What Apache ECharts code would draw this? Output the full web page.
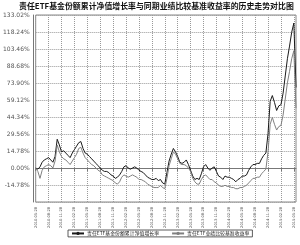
<!DOCTYPE html>
<html><head><meta charset="utf-8">
<script src="https://cdn.jsdelivr.net/npm/echarts@6/dist/echarts.min.js"></script>
<style>html,body{margin:0;padding:0;background:#fff}#c{width:300px;height:245px}</style>
</head><body><div id="c"></div>
<script>
const chartTitle = '责任ETF基金份额累计净值增长率与同期业绩比较基准收益率的历史走势对比图';
const seriesNames = ['责任ETF基金份额累计净值增长率', '责任ETF业绩比较基准收益率'];
const tickLabels = ['2010-05-28','2010-08-28','2010-11-28','2011-02-28','2011-05-28','2011-08-28','2011-11-28',
  '2012-02-28','2012-05-28','2012-08-28','2012-11-28','2013-02-28','2013-05-28','2013-08-28','2013-11-28',
  '2014-02-28','2014-05-28','2014-08-28','2014-11-28','2015-02-28','2015-05-28'];
const pointsPerTick = 6;
const fundGrowth = [
  0,-1,1,5,7,8,9,7,5,10,
  25,20,14,15,13,11,9,13,16,19,
  22,23,17,13,12,10,8,6,4,2,
  0,-2,-3,-3,-4,-6,-7,-9,-8,-6,
  -3,1,2,0,-1,0,1,0,-2,-3,
  -4,-6,-8,-9,-10,-10,-9,-11,-10,-13,
  -14,-4,6,12,17,14,10,5,4,5,
  7,3,-2,-7,-10,-9,-10,-5,1,3,
  0,-2,0,1,-3,-7,-8,-10,-7,-8,
  -8,-9,-10,-12,-10,-9,-7,-7,-6,-2,
  1,3,3,4,4,8,11,13,30,58,
  63,57,50,54,55,65,80,95,106,118,
  126,70
];
const benchmarkGrowth = [
  0,-3,-9,-2,1,2,3,2,0,6,
  20,14,10,8,7,5,3,6,9,12,
  17,18,13,9,7,5,3,2,0,-2,
  -3,-6,-7,-8,-9,-10,-11,-13,-14,-12,
  -8,-6,-7,-8,-7,-6,-7,-8,-10,-10,
  -11,-12,-14,-15,-16,-17,-17,-17,-15,-17,
  -18,-9,2,8,14,12,8,4,3,3,
  2,0,-3,-9,-12,-14,-14,-10,-7,-6,
  -8,-10,-10,-12,-13,-15,-16,-16,-15,-16,
  -16,-17,-17,-18,-18,-17,-17,-16,-15,-13,
  -11,-9,-9,-8,-8,-5,-3,-1,14,38,
  44,38,33,36,37,46,60,74,84,95,
  102,52
];
const categories = fundGrowth.map((_, i) => String(i));
const isTick = (i) => i % pointsPerTick === 0 && i / pointsPerTick < tickLabels.length;

const chart = echarts.init(document.getElementById('c'), null, {renderer: 'canvas'});
chart.setOption({
  animation: false,
  backgroundColor: '#fff',
  title: {
    text: chartTitle, left: 19, top: 2, padding: 0,
    textStyle: {fontSize: 7.9, fontWeight: 'bold', color: '#111', fontFamily: 'Noto Sans CJK SC'}
  },
  legend: {
    data: seriesNames, top: 230, left: 68,
    itemWidth: 12, itemHeight: 4, itemGap: 12,
    borderColor: '#333', borderWidth: 0.8, padding: [1, 3],
    textStyle: {fontSize: 4.9, color: '#222', fontFamily: 'Noto Sans CJK SC', padding: [0, 0, 0, -2]}
  },
  grid: {left: 33, right: 4, top: 15, bottom: 43, show: true, borderColor: '#888', borderWidth: 1},
  xAxis: {
    type: 'category', data: categories, boundaryGap: false, offset: 2,
    axisLine: {lineStyle: {color: '#777', width: 1}},
    axisTick: {show: true, interval: (i) => isTick(i), length: 3, lineStyle: {color: '#777'}},
    axisLabel: {
      interval: (i) => isTick(i), rotate: 90, fontSize: 3.6, color: '#444', margin: 3,
      fontFamily: 'DejaVu Sans',
      formatter: (v, i) => tickLabels[i / pointsPerTick] || ''
    },
    splitLine: {show: true, interval: (i) => isTick(i), lineStyle: {type: 'dotted', color: '#999', width: 1}}
  },
  yAxis: {
    type: 'value', min: -29.56, max: 133.02, interval: 14.78, offset: 2,
    axisLine: {show: true, lineStyle: {color: '#777', width: 1}},
    axisTick: {show: false},
    axisLabel: {
      fontSize: 6, color: '#555', margin: 4, fontFamily: 'DejaVu Sans',
      formatter: (v) => v < -20 ? '' : v.toFixed(2) + '%'
    },
    splitLine: {show: true, lineStyle: {type: 'dotted', color: '#999', width: 1}}
  },
  series: [
    {name: seriesNames[0], type: 'line', data: fundGrowth, symbol: 'none',
     lineStyle: {color: '#1a1a1a', width: 1}, itemStyle: {color: '#1a1a1a'}},
    {name: seriesNames[1], type: 'line', data: benchmarkGrowth, symbol: 'none',
     lineStyle: {color: '#808080', width: 1}, itemStyle: {color: '#808080'}}
  ]
});
</script></body></html>
